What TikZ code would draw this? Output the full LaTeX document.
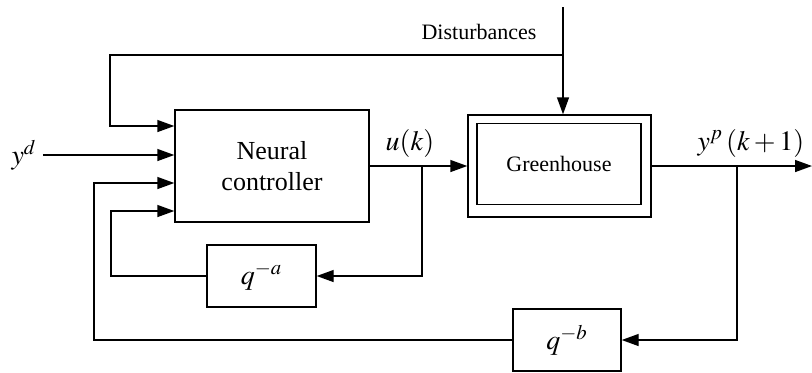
\documentclass[tikz,border=0pt]{standalone}
\usepackage{mathptmx}
\usepackage{fontspec}
\setmainfont{Liberation Serif}
\usepackage{tikz}
\usetikzlibrary{arrows.meta}

\tikzset{
	blk/.style={draw,line width=0.7pt,inner sep=0pt},
	flow/.style={line width=0.7pt,-{Triangle[length=8.5pt,width=6pt]}},
	wire/.style={line width=0.7pt}
}

\begin{document}
\begin{tikzpicture}[x=0.5pt,y=-0.5pt]
		\useasboundingbox (0,0) rectangle (812,372);
		%
		\node[blk,minimum width=97pt,minimum height=56pt,align=center,font=\fontsize{13}{15.5}\selectfont] (ctrl) at (272,166) {Neural\\controller};
		\node[blk,minimum width=91.5pt,minimum height=51pt] (plant) at (559.5,166) {};
		\node[blk,minimum width=82pt,minimum height=40.5pt,font=\fontsize{11}{13}\selectfont] (plantin) at (559,164) {Greenhouse};
		\node[blk,minimum width=54.5pt,minimum height=31pt,font=\fontsize{14}{16}\selectfont] (dela) at (261.5,276) {$q^{-a}$};
		\node[blk,minimum width=54pt,minimum height=31pt,font=\fontsize{14}{16}\selectfont] (delb) at (567,340) {$q^{-b}$};
		%
		\node[font=\fontsize{14}{16}\selectfont,inner sep=1pt] (yd) at (24,155) {$y^{d}$};
		\node[font=\fontsize{14}{16}\selectfont] (uk) at (410,143) {$u(k)$};
		\node[font=\fontsize{14}{16}\selectfont] (yp) at (751,143) {$y^{p}\,(k+1)$};
		\node[font=\fontsize{11}{13}\selectfont] (dist) at (479,32) {Disturbances};
		%
		\coordinate (dtop) at (563,7);
		\coordinate (djoin) at (563,55);
		\coordinate (in1) at (110,126);
		\coordinate (in3) at (94,183);
		\coordinate (in4) at (111,211);
		\coordinate (ub) at (422,166);
		\coordinate (yb) at (737,166);
		\coordinate (out) at (812,166);
		%
		% disturbances and inputs
		\draw[flow] (dtop) -- (dtop |- plant.north);
		\draw[flow] (djoin) -| (in1) -- (in1 -| ctrl.west);
		\draw[flow] (yd.east) ++(4,0) -- (yd.east -| ctrl.west);
		\draw[flow] (delb.west) -| (in3) -- (in3 -| ctrl.west);
		\draw[flow] (dela.west) -| (in4) -- (in4 -| ctrl.west);
		% forward path
		\draw[flow] (ctrl.east) -- (plant.west);
		\draw[flow] (plant.east) -- (out);
		% delays
		\draw[flow] (ub) |- (dela.east);
		\draw[flow] (yb) |- (delb.east);
	\end{tikzpicture}
\end{document}
